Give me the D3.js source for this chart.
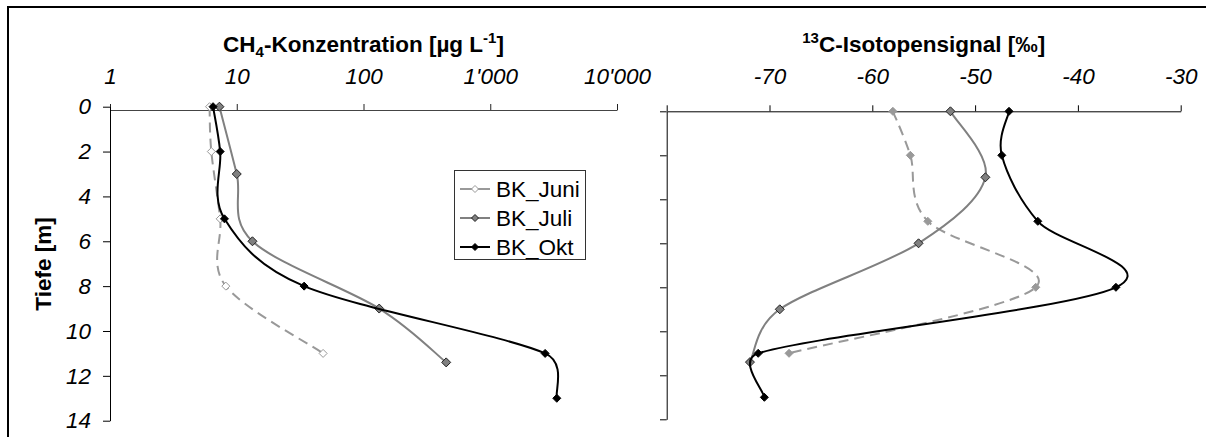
<!DOCTYPE html>
<html><head><meta charset="utf-8">
<script src="https://cdn.jsdelivr.net/npm/d3@7"></script>
<style>
body{margin:0;background:#fff;}
svg{display:block;font-family:"Liberation Sans",Arial,sans-serif;}
</style></head>
<body><svg id="c" width="1206" height="446"></svg>
<script>
// ---- data ----
const seriesNames = ["BK_Juni", "BK_Juli", "BK_Okt"];
const depthJuni = [0, 2, 5, 8, 11];
const depthJuli = [0, 3, 6, 9, 11.4];
const depthOkt  = [0, 2, 5, 8, 11, 13];
const ch4Juni = [6.1, 6.3, 7.4, 8.2, 48];
const ch4Juli = [7.3, 10.0, 13.3, 133, 449];
const ch4Okt  = [6.5, 7.4, 8.0, 34, 2710, 3350];
const iso13Juni = [-58.0, -56.3, -54.6, -44.1, -68.1];
const iso13Juli = [-52.4, -49.0, -55.5, -69.0, -71.9];
const iso13Okt  = [-46.7, -47.4, -43.9, -36.3, -71.1, -70.5];
const ch4Ticks = [1, 10, 100, 1000, 10000];
const ch4TickLabels = ["1", "10", "100", "1'000", "10'000"];
const isoTicks = [-80, -70, -60, -50, -40, -30];
const isoTickLabels = ["", "-70", "-60", "-50", "-40", "-30"];
const depthTicks = [0, 2, 4, 6, 8, 10, 12, 14];

const svg = d3.select("#c");
const FONT = 22.5;
const TFONT = 22.5;

// frame
svg.append("path").attr("d","M8,437 V7 H1206").attr("fill","none").attr("stroke","#000").attr("stroke-width",2);

// scales
const xL = d3.scaleLog().domain([1,10000]).range([110,617]);
const yL = d3.scaleLinear().domain([0,14]).range([106.7,420.7]);
const xR = d3.scaleLinear().domain([-80,-30]).range([666.7,1180.7]);
const yR = d3.scaleLinear().domain([0,14]).range([111.3,419.3]);

const styles = [
  {color:"#999", dash:"10,6", mfillL:"#fff", mstrokeL:"#999", mfillR:"#999", mstrokeR:"#999", r:4},
  {color:"#808080", dash:null, mfillL:"#808080", mstrokeL:"#222", mfillR:"#808080", mstrokeR:"#222", r:4.5},
  {color:"#000", dash:null, mfillL:"#000", mstrokeL:"#000", mfillR:"#000", mstrokeR:"#000", r:4}
];

function diamond(r){ return `M0,${-r} L${r},0 L0,${r} L${-r},0 Z`; }

// Excel-like smoothed line: Bezier arms = chord/6, capped at half the segment length
function smoothPath(pts){
  const p = d3.path();
  const dist = (a,b)=>Math.hypot(b[0]-a[0], b[1]-a[1]);
  p.moveTo(pts[0][0], pts[0][1]);
  for(let i=0;i<pts.length-1;i++){
    const p0 = pts[i-1] || pts[i], p1 = pts[i], p2 = pts[i+1], p3 = pts[i+2] || pts[i+1];
    const d12 = dist(p1,p2), d02 = dist(p0,p2), d13 = dist(p1,p3);
    let f1 = 1/6, f2 = 1/6;
    if (d02*f1 > d12/2 && d02>0) f1 = d12/2/d02;
    if (d13*f2 > d12/2 && d13>0) f2 = d12/2/d13;
    const c1 = [p1[0] + (p2[0]-p0[0])*f1, p1[1] + (p2[1]-p0[1])*f1];
    const c2 = [p2[0] - (p3[0]-p1[0])*f2, p2[1] - (p3[1]-p1[1])*f2];
    p.bezierCurveTo(c1[0],c1[1],c2[0],c2[1],p2[0],p2[1]);
  }
  return p.toString();
}

function styleTickText(g){
  g.selectAll("text").attr("font-size",FONT).attr("font-style","italic")
    .attr("font-family","Liberation Sans, Arial").attr("fill","#000");
}

// ---------- left panel axes ----------
const gxL = svg.append("g").attr("transform","translate(0,110)")
  .call(d3.axisTop(xL).tickValues(ch4Ticks).tickSize(6).tickSizeOuter(0).tickPadding(20)
    .tickFormat((d,i)=>ch4TickLabels[i]));
gxL.select(".domain").attr("stroke","#444");
gxL.selectAll(".tick line").attr("stroke","#222");
styleTickText(gxL);

const gyL = svg.append("g").attr("transform","translate(110,0)")
  .call(d3.axisLeft(yL).tickValues(depthTicks).tickSize(7).tickSizeOuter(0).tickPadding(12));
gyL.select(".domain").attr("stroke","#000");
styleTickText(gyL);

// ---------- right panel axes ----------
const gxR = svg.append("g").attr("transform",`translate(0,${yR(0)})`)
  .call(d3.axisTop(xR).tickValues(isoTicks).tickSize(6).tickSizeOuter(0).tickPadding(21)
    .tickFormat((d,i)=>isoTickLabels[i]));
gxR.select(".domain").attr("stroke","#000");
styleTickText(gxR);

const gyR = svg.append("g").attr("transform","translate(666.7,0)")
  .call(d3.axisLeft(yR).tickValues(depthTicks).tickSize(6.7).tickSizeOuter(0).tickFormat(""));
gyR.select(".domain").attr("stroke","#000");

// ---------- titles ----------
const t1 = svg.append("text").attr("x",(110+617)/2).attr("y",52).attr("text-anchor","middle")
  .attr("font-size",TFONT).attr("font-weight","bold");
t1.append("tspan").text("CH");
t1.append("tspan").attr("font-size",15).attr("dy",5).text("4");
t1.append("tspan").attr("dy",-5).text("-Konzentration [µg L");
t1.append("tspan").attr("font-size",15).attr("dy",-9).text("-1");
t1.append("tspan").attr("dy",9).text("]");

const t2 = svg.append("text").attr("x",(666.7+1180.7)/2).attr("y",52).attr("text-anchor","middle")
  .attr("font-size",TFONT).attr("font-weight","bold");
t2.append("tspan").attr("font-size",15).attr("dy",-9).text("13");
t2.append("tspan").attr("dy",9).text("C-Isotopensignal [‰]");

svg.append("text").attr("transform","translate(51,264) rotate(-90)").attr("text-anchor","middle")
  .attr("font-size",TFONT).attr("font-weight","bold").text("Tiefe [m]");

// ---------- series ----------
const leftSeries = [
  {depth:depthJuni, val:ch4Juni},
  {depth:depthJuli, val:ch4Juli},
  {depth:depthOkt, val:ch4Okt}
];
const rightSeries = [
  {depth:depthJuni, val:iso13Juni},
  {depth:depthJuli, val:iso13Juli},
  {depth:depthOkt, val:iso13Okt}
];

function drawSeries(series, xs, ys, side){
  series.forEach((s,i)=>{
    const st = styles[i];
    const pts = s.depth.map((d,k)=>[xs(s.val[k]), ys(d)]);
    svg.append("path").attr("d", smoothPath(pts))
      .attr("fill","none").attr("stroke",st.color).attr("stroke-width",2)
      .attr("stroke-dasharray",st.dash);
    svg.append("g").selectAll("path").data(pts).join("path")
      .attr("transform",p=>`translate(${p[0]},${p[1]})`)
      .attr("d",diamond(st.r))
      .attr("fill", side==="L"?st.mfillL:st.mfillR)
      .attr("stroke", side==="L"?st.mstrokeL:st.mstrokeR).attr("stroke-width",1);
  });
}
drawSeries(leftSeries, xL, yL, "L");
drawSeries(rightSeries, xR, yR, "R");

// ---------- legend ----------
const lg = svg.append("g");
lg.append("rect").attr("x",454.5).attr("y",170.5).attr("width",131).attr("height",89)
  .attr("fill","#fff").attr("stroke","#333").attr("stroke-width",1);
seriesNames.forEach((name,i)=>{
  const st = styles[i];
  const cy = 189 + i*29;
  lg.append("line").attr("x1",460).attr("x2",490).attr("y1",cy).attr("y2",cy)
    .attr("stroke",st.color).attr("stroke-width",2);
  lg.append("path").attr("transform",`translate(475,${cy})`).attr("d",diamond(3.5))
    .attr("fill",st.mfillL).attr("stroke",st.mstrokeL).attr("stroke-width",1);
  lg.append("text").attr("x",496).attr("y",cy).attr("dy","0.35em").attr("font-size",FONT).text(name);
});
</script></body></html>
